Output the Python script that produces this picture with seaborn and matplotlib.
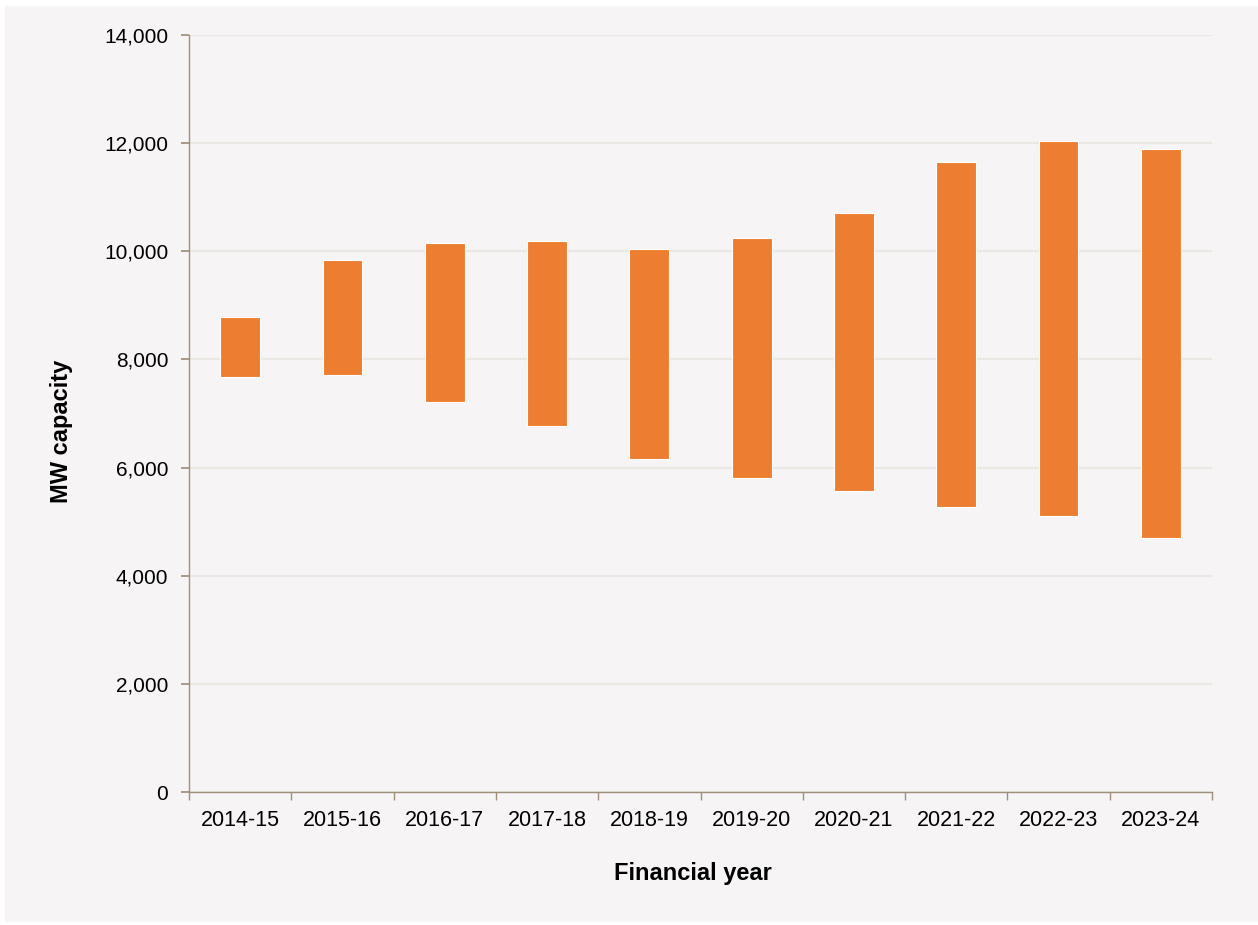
import matplotlib
matplotlib.use("Agg")
import matplotlib.pyplot as plt
import matplotlib.ticker as mticker
from matplotlib.patches import Rectangle
import seaborn as sns
import pandas as pd
import numpy as np

years = ["2014-15", "2015-16", "2016-17", "2017-18", "2018-19",
         "2019-20", "2020-21", "2021-22", "2022-23", "2023-24"]
mw_min = [7680, 7710, 7210, 6770, 6160, 5810, 5570, 5270, 5110, 4700]
mw_max = [8790, 9840, 10150, 10190, 10040, 10250, 10700, 11650, 12040, 11890]

df = pd.DataFrame({"year": years, "low": mw_min, "high": mw_max})
df["span"] = df["high"] - df["low"]

sns.set_theme(style="white")
plt.rcParams["font.family"] = ["Liberation Sans", "DejaVu Sans"]

BG = "#f6f4f5"
SPINE = "#a08f7a"
ORANGE = "#ED7D31"

fig = plt.figure(figsize=(12.58, 9.25), dpi=100, facecolor="white")
fig.patches.append(Rectangle((5 / 1258, 3 / 925), 1 - 5 / 1258, 1 - 9 / 925,
                             transform=fig.transFigure, facecolor=BG,
                             edgecolor="none", zorder=-10))
ax = fig.add_axes([189 / 1258, 1 - 792 / 925, (1212 - 189) / 1258, (792 - 35) / 925])
ax.set_zorder(5)
ax.set_facecolor(BG)

sns.barplot(data=df, x="year", y="span", bottom=df["low"].values, order=years,
            color=ORANGE, width=0.39, edgecolor="white", linewidth=0.8,
            saturation=1, ax=ax, zorder=3)

ax.set_ylim(0, 14000)
ax.set_xlim(-0.5, len(years) - 0.5)
ax.yaxis.set_major_locator(mticker.MultipleLocator(2000))
ax.yaxis.set_major_formatter(mticker.FuncFormatter(lambda v, p: f"{int(v):,}"))
ax.grid(axis="y", color="#ebe8e4", linewidth=1.6, zorder=0)
ax.set_axisbelow(True)

for s in ["top", "right"]:
    ax.spines[s].set_visible(False)
for s in ["left", "bottom"]:
    ax.spines[s].set_color(SPINE)
    ax.spines[s].set_linewidth(1.0)

ax.tick_params(axis="y", which="major", left=True, length=6, color=SPINE,
               labelsize=15, pad=9, labelcolor="black")
ax.tick_params(axis="x", which="major", bottom=False, labelsize=15.5, pad=7,
               labelcolor="black")
ax.set_xticks(np.arange(-0.5, len(years), 1.0), minor=True)
ax.tick_params(axis="x", which="minor", bottom=True, length=6, color=SPINE)

ax.set_xlabel("Financial year", fontsize=17, fontweight="bold", color="black",
              labelpad=24)
ax.set_ylabel("MW capacity", fontsize=17, fontweight="bold", color="black")
ax.xaxis.set_label_coords(0.493, -0.093)
ax.yaxis.set_label_coords(-0.113, 0.477)

fig.savefig("out.png", dpi=100, facecolor="white")
